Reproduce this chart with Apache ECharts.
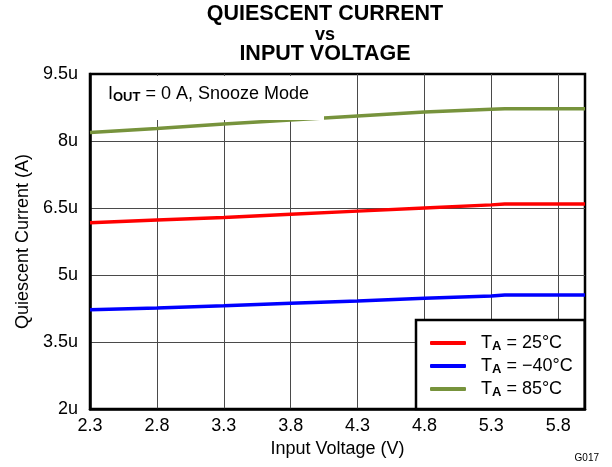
<!DOCTYPE html>
<html>
<head>
<meta charset="utf-8">
<script src="https://cdn.jsdelivr.net/npm/echarts@6/dist/echarts.min.js"></script>
<style>
  html, body { margin: 0; padding: 0; background: #fff; }
  #chart { width: 612px; height: 467px; }
</style>
</head>
<body>
<div id="chart"></div>
<script>
// ---- data ----
const voltages = [2.3, 2.8, 3.3, 3.8, 4.3, 4.8, 5.3, 5.4, 6.0];
const iq25 = [6.17, 6.23, 6.29, 6.36, 6.43, 6.50, 6.57, 6.59, 6.59];
const iqM40 = [4.22, 4.26, 4.31, 4.37, 4.42, 4.48, 4.53, 4.55, 4.55];
const iq85 = [8.19, 8.28, 8.38, 8.47, 8.56, 8.65, 8.71, 8.72, 8.72];
const xTickLabels = ['2.3', '2.8', '3.3', '3.8', '4.3', '4.8', '5.3', '5.8'];
const yTickLabels = ['2u', '3.5u', '5u', '6.5u', '8u', '9.5u'];
const seriesNames = ['T_A = 25°C', 'T_A = −40°C', 'T_A = 85°C'];
const legendTexts = [' = 25°C', ' = −40°C', ' = 85°C'];

const FONT = '"Liberation Sans", Arial, Helvetica, sans-serif';
const chart = echarts.init(document.getElementById('chart'), null, { renderer: 'canvas' });

function pairs(ys) { return voltages.map((x, i) => [x, ys[i]]); }

const colors = ['#ff0000', '#0000ff', '#77933c'];
const seriesData = [iq25, iqM40, iq85];

const option = {
  backgroundColor: '#ffffff',
  animation: false,
  grid: {
    left: 90, right: 27, top: 74, bottom: 58,
    show: true, borderColor: '#000', borderWidth: 2.5, backgroundColor: 'transparent'
  },
  xAxis: {
    type: 'value', min: 2.3, max: 6.0, interval: 0.5,
    name: 'Input Voltage (V)', nameLocation: 'middle', nameGap: 31,
    nameTextStyle: { fontFamily: FONT, fontSize: 18, color: '#000' },
    axisLine: { show: true, lineStyle: { color: '#000', width: 2.5 } },
    axisTick: { show: false },
    axisLabel: {
      margin: 8, fontFamily: FONT, fontSize: 18, color: '#000',
      formatter: (v) => { const s = v.toFixed(1); return xTickLabels.includes(s) ? s : ''; }
    },
    splitLine: { show: true, showMinLine: false, showMaxLine: false, lineStyle: { color: '#4a4a4a', width: 1 } }
  },
  yAxis: {
    type: 'value', min: 2, max: 9.5, interval: 1.5,
    name: 'Quiescent Current (A)', nameLocation: 'middle', nameGap: 58,
    nameTextStyle: { fontFamily: FONT, fontSize: 18, color: '#000' },
    axisLine: { show: true, lineStyle: { color: '#000', width: 2.5 } },
    axisTick: { show: false },
    axisLabel: {
      margin: 12, fontFamily: FONT, fontSize: 18, color: '#000',
      formatter: (v) => { const s = (Math.round(v * 10) / 10) + 'u'; return yTickLabels.includes(s) ? s : ''; }
    },
    splitLine: { show: true, showMinLine: false, showMaxLine: false, lineStyle: { color: '#4a4a4a', width: 1 } }
  },
  legend: {
    orient: 'vertical', left: 416, top: 320,
    padding: [14, 12, 10, 14],
    backgroundColor: '#fff', borderColor: '#000', borderWidth: 2.5, borderRadius: 0,
    itemWidth: 36, itemHeight: 4, itemGap: 4, icon: 'roundRect',
    data: seriesNames,
    formatter: (name) => '{t|T}{s|A}{r|' + legendTexts[seriesNames.indexOf(name)] + '}',
    textStyle: {
      fontFamily: FONT, color: '#000',
      rich: {
        t: { fontFamily: FONT, fontSize: 18, color: '#000', padding: [0, 0, 0, 10], lineHeight: 20 },
        s: { fontFamily: FONT, fontSize: 13, fontWeight: 'bold', color: '#000', verticalAlign: 'bottom', padding: [6, 0, 0, 0], lineHeight: 20 },
        r: { fontFamily: FONT, fontSize: 18, color: '#000', lineHeight: 20 }
      }
    }
  },
  graphic: [
    { type: 'rect', z: 10, silent: true, shape: { x: 92, y: 76, width: 232, height: 44 }, style: { fill: '#fff' } },
    { type: 'text', z: 11, left: 108, top: 85, style: {
        text: '{a|I}{b|OUT}{a| = 0 A, Snooze Mode}',
        rich: {
          a: { fontFamily: FONT, fontSize: 18, fill: '#000', lineHeight: 20 },
          b: { fontFamily: FONT, fontSize: 13, fontWeight: 'bold', fill: '#000', verticalAlign: 'bottom', padding: [6, 0, 0, 0], lineHeight: 20 }
        }
    } },
    { type: 'text', z: 11, x: 325, y: 14, style: { text: 'QUIESCENT CURRENT', fontFamily: FONT, fontWeight: 'bold', fontSize: 21.5, fill: '#000', align: 'center', verticalAlign: 'middle' } },
    { type: 'text', z: 11, x: 325, y: 35, style: { text: 'vs', fontFamily: FONT, fontWeight: 'bold', fontSize: 18, fill: '#000', align: 'center', verticalAlign: 'middle' } },
    { type: 'text', z: 11, x: 325, y: 54.5, style: { text: 'INPUT VOLTAGE', fontFamily: FONT, fontWeight: 'bold', fontSize: 21.5, fill: '#000', align: 'center', verticalAlign: 'middle' } },
    { type: 'text', z: 11, x: 599, y: 458, style: { text: 'G017', fontFamily: FONT, fontSize: 10, fill: '#000', align: 'right', verticalAlign: 'middle' } }
  ],
  series: seriesNames.map((n, i) => ({
    name: n, type: 'line', data: pairs(seriesData[i]),
    showSymbol: false, symbol: 'none', smooth: false, z: 3,
    lineStyle: { color: colors[i], width: 3.5 },
    itemStyle: { color: colors[i] }
  }))
};
chart.setOption(option);
</script>
</body>
</html>
